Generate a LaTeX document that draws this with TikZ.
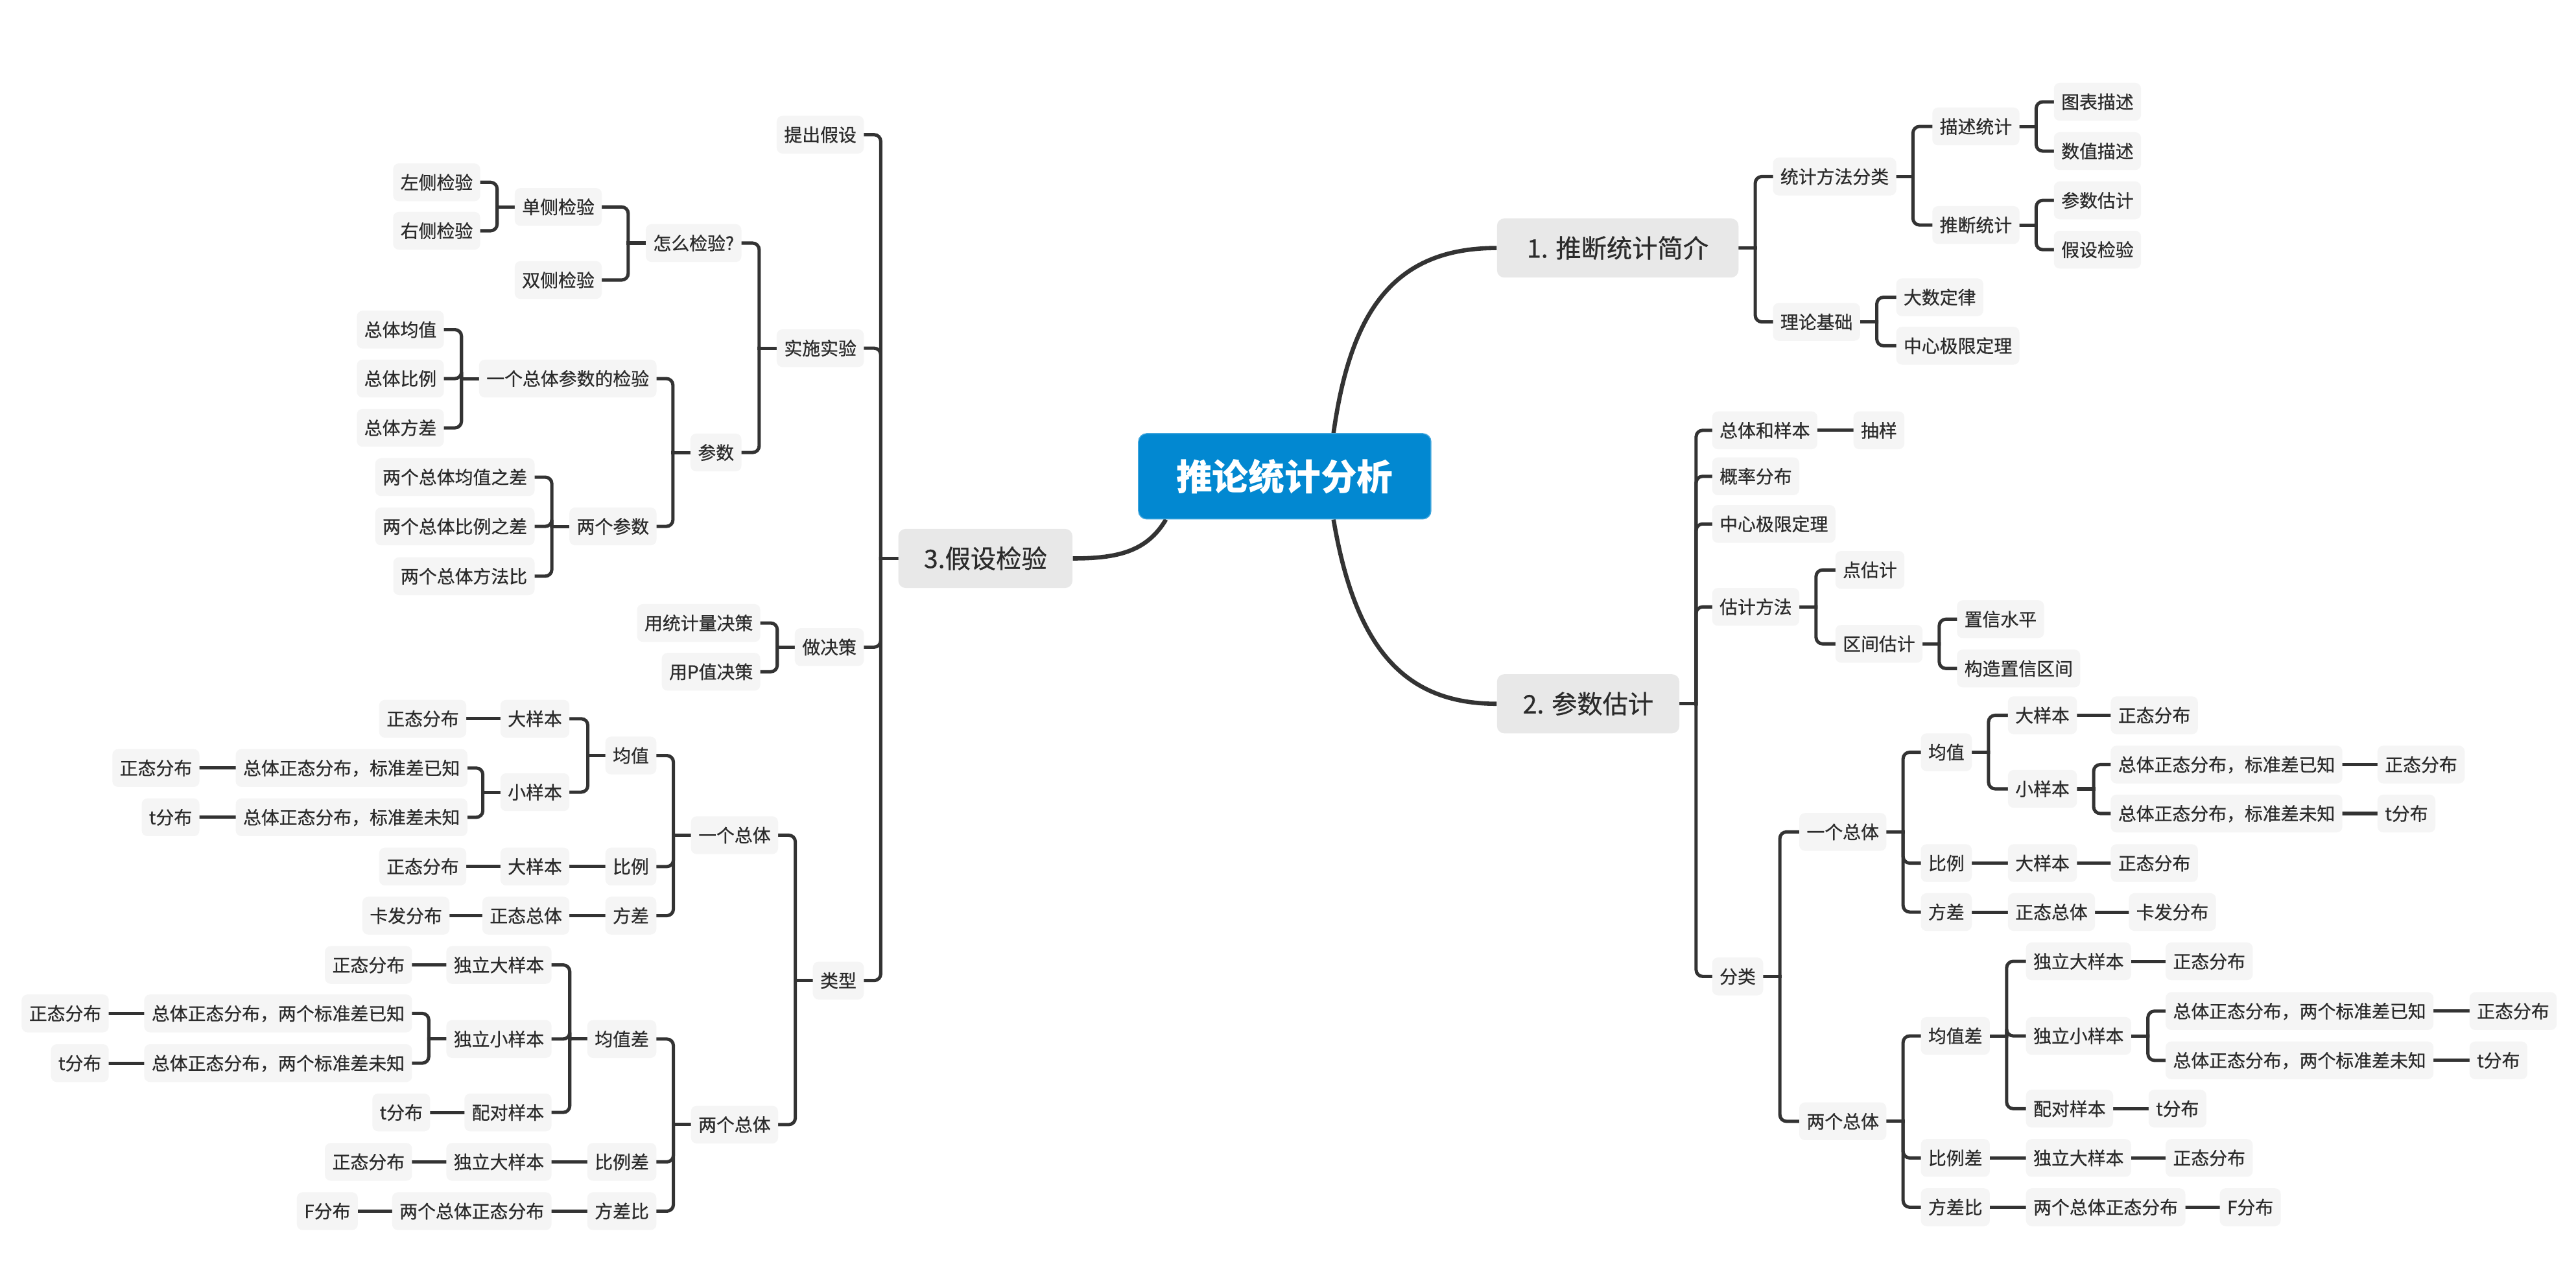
\documentclass[tikz,border=0pt]{standalone}
\usepackage{fontspec}
\newfontfamily\cjk{Noto Sans CJK SC}
\newfontfamily\cjkm[FakeBold=0.6]{Noto Sans CJK SC}
\usetikzlibrary{backgrounds}
\definecolor{linec}{HTML}{333333}
\definecolor{snfill}{HTML}{F5F5F5}
\definecolor{mnfill}{HTML}{E8E8E8}
\definecolor{cblue}{HTML}{0288D1}
\definecolor{txt}{HTML}{2B2B2B}
\tikzset{
 sn/.style={fill=snfill, rounded corners=3.5, inner xsep=4.5, inner ysep=0, minimum height=23, text height=9.7, text depth=1.3, font=\cjkm\fontsize{11}{13}\selectfont, text=txt},
 mn/.style={fill=mnfill, rounded corners=4.5, inner xsep=0, inner ysep=0, minimum height=36, text height=13.6, text depth=1.9, font=\cjkm\fontsize{15.5}{18}\selectfont, text=txt},
 cn/.style={fill=cblue, draw=cblue!75!white, line width=0.6, rounded corners=5, minimum width=178, minimum height=52, inner sep=0, text height=19.4, text depth=2.6, font=\cjk\bfseries\fontsize{22}{26}\selectfont, text=white},
 conn/.style={draw=linec, line width=2, line cap=rect},
 mconn/.style={draw=linec, line width=2.6},
}
\newcommand\brR[3]{\draw[conn] (#1.east) -- ([xshift=#3]#1.east);\draw[conn,rounded corners=4] (#2.west) -| ([xshift=#3]#1.east);}
\newcommand\brL[3]{\draw[conn] (#1.west) -- ([xshift=-#3]#1.west);\draw[conn,rounded corners=4] (#2.east) -| ([xshift=-#3]#1.west);}
\newcommand\lnk[2]{\draw[conn] (#1) -- (#2);}
\begin{document}
\begin{tikzpicture}[x=1pt,y=-1pt]
\useasboundingbox (0,0) rectangle (1568,784);
% central
\node[cn] (c) at (782,290) {推论统计分析};
% main branches
\node[mn, minimum width=147, anchor=west] (n1) at (911,151) {1. 推断统计简介};
\node[mn, minimum width=111, anchor=west] (n2) at (911,428.5) {2. 参数估计};
\node[mn, minimum width=106, anchor=east] (n3) at (653,340) {3.假设检验};
% ---- branch 1
\node[sn, anchor=west] (a1) at (1079,107.5) {统计方法分类};
\node[sn, anchor=west] (a2) at (1079,196) {理论基础};
\node[sn, anchor=west] (a11) at (1176,77) {描述统计};
\node[sn, anchor=west] (a12) at (1176,137) {推断统计};
\node[sn, anchor=west] (a111) at (1250,62) {图表描述};
\node[sn, anchor=west] (a112) at (1250,92) {数值描述};
\node[sn, anchor=west] (a121) at (1250,122) {参数估计};
\node[sn, anchor=west] (a122) at (1250,152) {假设检验};
\node[sn, anchor=west] (a21) at (1154,181) {大数定律};
\node[sn, anchor=west] (a22) at (1154,210.5) {中心极限定理};
% ---- branch 2
\node[sn, anchor=west] (b1) at (1042,262) {总体和样本};
\node[sn, anchor=west] (b1x) at (1128,262) {抽样};
\node[sn, anchor=west] (b2) at (1042,290) {概率分布};
\node[sn, anchor=west] (b3) at (1042,319) {中心极限定理};
\node[sn, anchor=west] (b4) at (1042,369.5) {估计方法};
\node[sn, anchor=west] (b41) at (1117,347) {点估计};
\node[sn, anchor=west] (b42) at (1117,392) {区间估计};
\node[sn, anchor=west] (b421) at (1191,377) {置信水平};
\node[sn, anchor=west] (b422) at (1191,407) {构造置信区间};
\node[sn, anchor=west] (b5) at (1042,594.5) {分类};
\node[sn, anchor=west] (c1) at (1095,506.5) {一个总体};
\node[sn, anchor=west] (c2) at (1095,682.7) {两个总体};
\node[sn, anchor=west] (c11) at (1169,458) {均值};
\node[sn, anchor=west] (c12) at (1169,525.5) {比例};
\node[sn, anchor=west] (c13) at (1169,555.3) {方差};
\node[sn, anchor=west] (c111) at (1222,435.5) {大样本};
\node[sn, anchor=west] (c111x) at (1284.6,435.5) {正态分布};
\node[sn, anchor=west] (c112) at (1222,480.3) {小样本};
\node[sn, anchor=west] (c1121) at (1284.6,465.5) {总体正态分布，标准差已知};
\node[sn, anchor=west] (c1121x) at (1447,465.5) {正态分布};
\node[sn, anchor=west] (c1122) at (1284.6,495.3) {总体正态分布，标准差未知};
\node[sn, anchor=west] (c1122x) at (1447,495.3) {t分布};
\node[sn, anchor=west] (c121) at (1222,525.5) {大样本};
\node[sn, anchor=west] (c121x) at (1284.6,525.5) {正态分布};
\node[sn, anchor=west] (c131) at (1222,555.3) {正态总体};
\node[sn, anchor=west] (c131x) at (1295.6,555.3) {卡发分布};
\node[sn, anchor=west] (c21) at (1169,630.7) {均值差};
\node[sn, anchor=west] (c22) at (1169,705) {比例差};
\node[sn, anchor=west] (c23) at (1169,735) {方差比};
\node[sn, anchor=west] (c211) at (1233,585.3) {独立大样本};
\node[sn, anchor=west] (c211x) at (1318,585.3) {正态分布};
\node[sn, anchor=west] (c212) at (1233,630.7) {独立小样本};
\node[sn, anchor=west] (c2121) at (1318,615.6) {总体正态分布，两个标准差已知};
\node[sn, anchor=west] (c2121x) at (1503,615.6) {正态分布};
\node[sn, anchor=west] (c2122) at (1318,645.6) {总体正态分布，两个标准差未知};
\node[sn, anchor=west] (c2122x) at (1503,645.6) {t分布};
\node[sn, anchor=west] (c213) at (1233,675) {配对样本};
\node[sn, anchor=west] (c213x) at (1307.6,675) {t分布};
\node[sn, anchor=west] (c221) at (1233,705) {独立大样本};
\node[sn, anchor=west] (c221x) at (1318,705) {正态分布};
\node[sn, anchor=west] (c231) at (1233,735) {两个总体正态分布};
\node[sn, anchor=west] (c231x) at (1351,735) {F分布};
% ---- branch 3
\node[sn, anchor=east] (d1) at (526,82) {提出假设};
\node[sn, anchor=east] (d2) at (526,212) {实施实验};
\node[sn, anchor=east] (d3) at (526,394) {做决策};
\node[sn, anchor=east] (d4) at (526,597) {类型};
\node[sn, anchor=east] (d21) at (451.5,148) {怎么检验?};
\node[sn, anchor=east] (d22) at (451.5,275.5) {参数};
\node[sn, anchor=east] (d211) at (366.5,126) {单侧检验};
\node[sn, anchor=east] (d212) at (366.5,170.5) {双侧检验};
\node[sn, anchor=east] (d2111) at (292.5,111) {左侧检验};
\node[sn, anchor=east] (d2112) at (292.5,140.5) {右侧检验};
\node[sn, anchor=east] (d221) at (399.8,230.5) {一个总体参数的检验};
\node[sn, anchor=east] (d222) at (399.8,320.5) {两个参数};
\node[sn, anchor=east] (d2211) at (270.4,200.7) {总体均值};
\node[sn, anchor=east] (d2212) at (270.4,230.5) {总体比例};
\node[sn, anchor=east] (d2213) at (270.4,260.5) {总体方差};
\node[sn, anchor=east] (d2221) at (325.6,290.5) {两个总体均值之差};
\node[sn, anchor=east] (d2222) at (325.6,320.5) {两个总体比例之差};
\node[sn, anchor=east] (d2223) at (325.6,350.8) {两个总体方法比};
\node[sn, anchor=east] (d31) at (463,379.3) {用统计量决策};
\node[sn, anchor=east] (d32) at (463,409) {用P值决策};
\node[sn, anchor=east] (e1) at (473.8,508.5) {一个总体};
\node[sn, anchor=east] (e2) at (473.8,684.7) {两个总体};
\node[sn, anchor=east] (e11) at (399.7,460) {均值};
\node[sn, anchor=east] (e12) at (399.7,527.6) {比例};
\node[sn, anchor=east] (e13) at (399.7,557.5) {方差};
\node[sn, anchor=east] (e111) at (346.8,437.6) {大样本};
\node[sn, anchor=east] (e111x) at (284,437.6) {正态分布};
\node[sn, anchor=east] (e112) at (346.8,482.3) {小样本};
\node[sn, anchor=east] (e1121) at (284.7,467.6) {总体正态分布，标准差已知};
\node[sn, anchor=east] (e1121x) at (121.6,467.6) {正态分布};
\node[sn, anchor=east] (e1122) at (284.7,497.6) {总体正态分布，标准差未知};
\node[sn, anchor=east] (e1122x) at (121.6,497.6) {t分布};
\node[sn, anchor=east] (e121) at (346.8,527.6) {大样本};
\node[sn, anchor=east] (e121x) at (284,527.6) {正态分布};
\node[sn, anchor=east] (e131) at (346.8,557.5) {正态总体};
\node[sn, anchor=east] (e131x) at (273.8,557.5) {卡发分布};
\node[sn, anchor=east] (e21) at (399.7,632.6) {均值差};
\node[sn, anchor=east] (e22) at (399.7,707.4) {比例差};
\node[sn, anchor=east] (e23) at (399.7,737.4) {方差比};
\node[sn, anchor=east] (e211) at (335.9,587.5) {独立大样本};
\node[sn, anchor=east] (e211x) at (251,587.5) {正态分布};
\node[sn, anchor=east] (e212) at (335.9,632.6) {独立小样本};
\node[sn, anchor=east] (e2121) at (251,617) {总体正态分布，两个标准差已知};
\node[sn, anchor=east] (e2121x) at (66.4,617) {正态分布};
\node[sn, anchor=east] (e2122) at (251,647.3) {总体正态分布，两个标准差未知};
\node[sn, anchor=east] (e2122x) at (66.4,647.3) {t分布};
\node[sn, anchor=east] (e213) at (335.9,677.3) {配对样本};
\node[sn, anchor=east] (e213x) at (262,677.3) {t分布};
\node[sn, anchor=east] (e221) at (335.9,707.4) {独立大样本};
\node[sn, anchor=east] (e221x) at (251,707.4) {正态分布};
\node[sn, anchor=east] (e231) at (335.9,737.4) {两个总体正态分布};
\node[sn, anchor=east] (e231x) at (218,737.4) {F分布};

\begin{pgfonlayer}{background}
\fill[white] (0,0) rectangle (1568,784);
% main curves
\draw[mconn] ([xshift=119]c.north west) .. controls (822,190) and (848,151) .. (n1.west);
\draw[mconn] ([xshift=119]c.south west) .. controls (825,395) and (855,428.5) .. (n2.west);
\draw[mconn] ([xshift=17]c.south west) .. controls (698,336) and (680,340) .. (n3.east);
% branch 1
\brR{n1}{a1}{10}\brR{n1}{a2}{10}
\brR{a1}{a11}{10}\brR{a1}{a12}{10}
\brR{a11}{a111}{10}\brR{a11}{a112}{10}
\brR{a12}{a121}{10}\brR{a12}{a122}{10}
\brR{a2}{a21}{10}\brR{a2}{a22}{10}
% branch 2
\brR{n2}{b1}{10}\brR{n2}{b2}{10}\brR{n2}{b3}{10}\brR{n2}{b4}{10}\brR{n2}{b5}{10}
\lnk{b1.east}{b1x.west}
\brR{b4}{b41}{10}\brR{b4}{b42}{10}
\brR{b42}{b421}{10}\brR{b42}{b422}{10}
\brR{b5}{c1}{10}\brR{b5}{c2}{10}
\brR{c1}{c11}{10}\brR{c1}{c12}{10}\brR{c1}{c13}{10}
\brR{c11}{c111}{10}\brR{c11}{c112}{10}
\lnk{c111.east}{c111x.west}
\brR{c112}{c1121}{10}\brR{c112}{c1122}{10}
\lnk{c1121.east}{c1121x.west}
\lnk{c1122.east}{c1122x.west}
\lnk{c12.east}{c121.west}\lnk{c121.east}{c121x.west}
\lnk{c13.east}{c131.west}\lnk{c131.east}{c131x.west}
\brR{c2}{c21}{10}\brR{c2}{c22}{10}\brR{c2}{c23}{10}
\brR{c21}{c211}{10}\brR{c21}{c212}{10}\brR{c21}{c213}{10}
\lnk{c211.east}{c211x.west}
\brR{c212}{c2121}{10}\brR{c212}{c2122}{10}
\lnk{c2121.east}{c2121x.west}
\lnk{c2122.east}{c2122x.west}
\lnk{c213.east}{c213x.west}
\lnk{c22.east}{c221.west}\lnk{c221.east}{c221x.west}
\lnk{c23.east}{c231.west}\lnk{c231.east}{c231x.west}
% branch 3
\brL{n3}{d1}{10.5}\brL{n3}{d2}{10.5}\brL{n3}{d3}{10.5}\brL{n3}{d4}{10.5}
\brL{d2}{d21}{10.5}\brL{d2}{d22}{10.5}
\brL{d21}{d211}{10.5}\brL{d21}{d212}{10.5}
\brL{d211}{d2111}{10.5}\brL{d211}{d2112}{10.5}
\brL{d22}{d221}{10.5}\brL{d22}{d222}{10.5}
\brL{d221}{d2211}{10.5}\brL{d221}{d2212}{10.5}\brL{d221}{d2213}{10.5}
\brL{d222}{d2221}{10.5}\brL{d222}{d2222}{10.5}\brL{d222}{d2223}{10.5}
\brL{d3}{d31}{10.5}\brL{d3}{d32}{10.5}
\brL{d4}{e1}{10.5}\brL{d4}{e2}{10.5}
\brL{e1}{e11}{10.5}\brL{e1}{e12}{10.5}\brL{e1}{e13}{10.5}
\brL{e11}{e111}{10.5}\brL{e11}{e112}{10.5}
\lnk{e111.west}{e111x.east}
\brL{e112}{e1121}{10.5}\brL{e112}{e1122}{10.5}
\lnk{e1121.west}{e1121x.east}
\lnk{e1122.west}{e1122x.east}
\lnk{e12.west}{e121.east}\lnk{e121.west}{e121x.east}
\lnk{e13.west}{e131.east}\lnk{e131.west}{e131x.east}
\brL{e2}{e21}{10.5}\brL{e2}{e22}{10.5}\brL{e2}{e23}{10.5}
\brL{e21}{e211}{10.5}\brL{e21}{e212}{10.5}\brL{e21}{e213}{10.5}
\lnk{e211.west}{e211x.east}
\brL{e212}{e2121}{10.5}\brL{e212}{e2122}{10.5}
\lnk{e2121.west}{e2121x.east}
\lnk{e2122.west}{e2122x.east}
\lnk{e213.west}{e213x.east}
\lnk{e22.west}{e221.east}\lnk{e221.west}{e221x.east}
\lnk{e23.west}{e231.east}\lnk{e231.west}{e231x.east}
\end{pgfonlayer}
\end{tikzpicture}
\end{document}
